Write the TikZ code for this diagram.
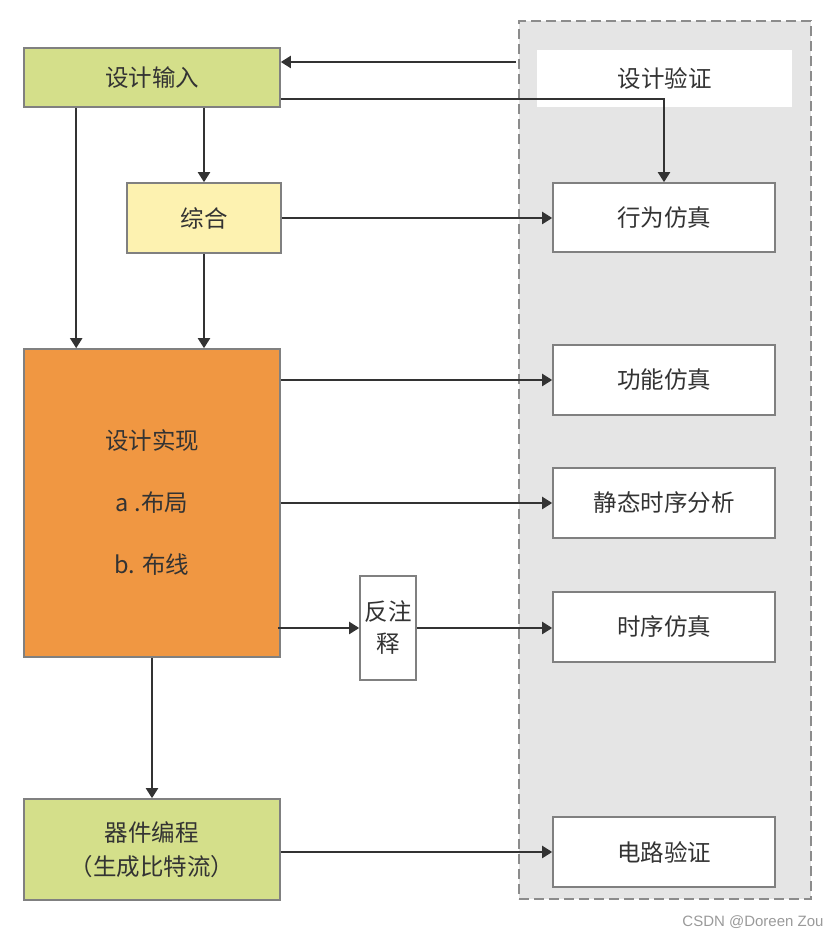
\documentclass[tikz,border=0pt]{standalone}
\usepackage{fontspec}
\setmainfont{Noto Sans CJK SC}
\newfontfamily\wmfont{Liberation Sans}
\usetikzlibrary{arrows.meta,calc}
\definecolor{cgreen}{HTML}{D4DF8A}
\definecolor{cyellow}{HTML}{FDF2B0}
\definecolor{corange}{HTML}{F09742}
\definecolor{cborder}{HTML}{808080}
\definecolor{cpanel}{HTML}{E5E5E5}
\definecolor{cdash}{HTML}{8C8C8C}
\definecolor{cline}{HTML}{333333}
\definecolor{ctext}{HTML}{333333}
\definecolor{cwm}{HTML}{9A9A9A}
\tikzset{
  box/.style={draw=cborder, line width=1.6pt, minimum width=#1, inner sep=0pt, text=ctext, font=\fontsize{23.5}{30}\selectfont, align=center},
  rbox/.style={box=222pt, fill=white, minimum height=70pt},
  arr/.style={draw=cline, line width=2pt, -{Triangle[length=10pt,width=12pt]}},
}
\begin{document}
\begin{tikzpicture}[x=1pt,y=1pt]
\useasboundingbox (0,0) rectangle (840,938);
% panel
\node[draw=cdash, fill=cpanel, line width=1.6pt, dash pattern=on 10pt off 5pt, minimum width=292pt, minimum height=878pt, inner sep=0pt] (panel) at (665,478) {};
\node[fill=white, minimum width=255pt, minimum height=57pt, inner sep=0pt, text=ctext, font=\fontsize{23.5}{30}\selectfont] (verify) at (664.5,859.5) {设计验证};
% left column
\node[box=256pt, fill=cgreen, minimum height=59pt] (in) at (152,860.5) {设计输入};
\node[box=154pt, fill=cyellow, minimum height=70pt] (syn) at (204,720) {综合};
\node[box=256pt, fill=corange, minimum height=308pt, font=\fontsize{23.5}{62}\selectfont] (impl) at (152,435) {\raisebox{-2pt}{}设计实现\\a .布局\\b. 布线};
\node[box=256pt, fill=cgreen, minimum height=101pt, font=\fontsize{23.5}{34}\selectfont] (prog) at (152,88.5) {器件编程\\（生成比特流）};
\node[box=56pt, fill=white, minimum height=104pt, font=\fontsize{23.5}{32}\selectfont] (back) at (388,310) {反注\\释};
% right column
\node[rbox, minimum height=69pt] (beh) at (664,720.5) {行为仿真};
\node[rbox, minimum height=70pt] (func) at (664,558) {功能仿真};
\node[rbox] (sta) at (664,435) {静态时序分析};
\node[rbox] (tim) at (664,311) {时序仿真};
\node[rbox] (circ) at (664,86) {电路验证};
% watermark
\node[text=cwm, font=\wmfont\fontsize{15}{18}\selectfont, inner sep=0pt] (wm) at (753,15.5) {CSDN @Doreen Zou};
% connectors
\coordinate (v1) at (516,876);
\draw[arr] (v1) -- (v1 -| in.east);
\draw[arr] ([yshift=-21.5pt]in.east) -| (beh.north);
\draw[arr] (in.south -| syn.north) -- (syn.north);
\draw[arr] ([xshift=53pt]in.south west) -- ([xshift=53pt]impl.north west);
\draw[arr] (syn.south) -- (syn.south |- impl.north);
\draw[arr] (syn.east) -- (syn.east -| beh.west);
\draw[arr] (impl.east |- func.west) -- (func.west);
\draw[arr] (impl.east |- sta.west) -- (sta.west);
\draw[arr] ([xshift=-3pt]impl.east |- back.west) -- (back.west);
\draw[arr] (back.east) -- (back.east -| tim.west);
\draw[arr] (impl.south) -- (impl.south |- prog.north);
\draw[arr] (prog.east |- circ.west) -- (circ.west);
\end{tikzpicture}
\end{document}
